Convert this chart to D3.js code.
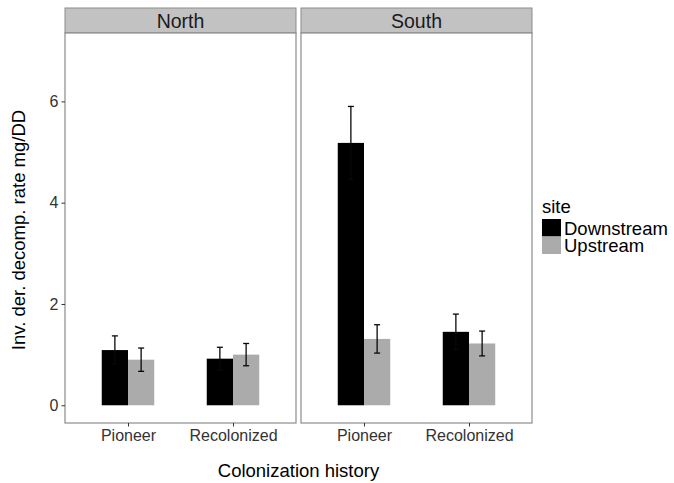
<!DOCTYPE html>
<html>
<head>
<meta charset="utf-8">
<script src="https://cdn.jsdelivr.net/npm/d3@7/dist/d3.min.js"></script>
<style>
  body { margin: 0; background: #fff; }
  svg text { font-family: "Liberation Sans", Arial, Helvetica, sans-serif; }
</style>
</head>
<body>
<svg id="chart" width="674" height="483"></svg>
<script>
// ---- data ----
const regions = ["North", "South"];
const categories = ["Pioneer", "Recolonized"];
const sites = ["Downstream", "Upstream"];
const northDownstream = [1.09, 0.92];
const northUpstream = [0.90, 1.00];
const southDownstream = [5.18, 1.45];
const southUpstream = [1.31, 1.22];
const northDownstreamErr = [0.28, 0.225];
const northUpstreamErr = [0.23, 0.22];
const southDownstreamErr = [0.72, 0.35];
const southUpstreamErr = [0.28, 0.245];
const yTicks = [0, 2, 4, 6];
const siteColors = ["#000000", "#ababab"];

const values = {
  North: { Downstream: northDownstream, Upstream: northUpstream },
  South: { Downstream: southDownstream, Upstream: southUpstream }
};
const errs = {
  North: { Downstream: northDownstreamErr, Upstream: northUpstreamErr },
  South: { Downstream: southDownstreamErr, Upstream: southUpstreamErr }
};

// ---- layout ----
const svg = d3.select("#chart");
const panelTop = 33, panelBottom = 423, stripTop = 8;
const panelX = { North: 65, South: 301 };
const panelW = 231;

const y = d3.scaleLinear().domain([-0.35, 7.35]).range([panelBottom, panelTop]);
const color = d3.scaleOrdinal().domain(sites).range(siteColors);

regions.forEach(region => {
  const x0 = panelX[region];
  const g = svg.append("g").attr("transform", `translate(${x0},0)`);
  const x = d3.scalePoint().domain(categories).range([0, panelW]).padding(0.6);
  const step = x.step();
  const xs = d3.scaleBand().domain(sites).range([-0.25 * step, 0.25 * step]);

  // strip
  g.append("rect")
    .attr("x", 0).attr("y", stripTop)
    .attr("width", panelW).attr("height", panelTop - stripTop)
    .attr("fill", "#c2c2c2").attr("stroke", "#8c8c8c").attr("stroke-width", 1);
  g.append("text")
    .attr("x", panelW / 2).attr("y", (stripTop + panelTop) / 2 + 7)
    .attr("text-anchor", "middle").attr("font-size", 19.5).attr("fill", "#1a1a1a")
    .text(region);

  // panel background
  g.append("rect")
    .attr("x", 0).attr("y", panelTop)
    .attr("width", panelW).attr("height", panelBottom - panelTop)
    .attr("fill", "#fff");

  const rows = [];
  categories.forEach((c, i) => {
    sites.forEach(s => {
      rows.push({ c, s, v: values[region][s][i], e: errs[region][s][i] });
    });
  });

  // bars
  g.selectAll("rect.bar").data(rows).enter().append("rect")
    .attr("class", "bar")
    .attr("x", d => x(d.c) + xs(d.s))
    .attr("width", xs.bandwidth())
    .attr("y", d => y(d.v))
    .attr("height", d => y(0) - y(d.v))
    .attr("fill", d => color(d.s));

  // error bars
  const capW = 3;
  const eb = g.selectAll("g.err").data(rows).enter().append("g")
    .attr("class", "err")
    .attr("stroke", "#080808").attr("stroke-width", 1.3);
  eb.append("line")
    .attr("x1", d => x(d.c) + xs(d.s) + xs.bandwidth() / 2)
    .attr("x2", d => x(d.c) + xs(d.s) + xs.bandwidth() / 2)
    .attr("y1", d => y(d.v - d.e)).attr("y2", d => y(d.v + d.e));
  eb.append("line")
    .attr("x1", d => x(d.c) + xs(d.s) + xs.bandwidth() / 2 - capW)
    .attr("x2", d => x(d.c) + xs(d.s) + xs.bandwidth() / 2 + capW)
    .attr("y1", d => y(d.v + d.e)).attr("y2", d => y(d.v + d.e));
  eb.append("line")
    .attr("x1", d => x(d.c) + xs(d.s) + xs.bandwidth() / 2 - capW)
    .attr("x2", d => x(d.c) + xs(d.s) + xs.bandwidth() / 2 + capW)
    .attr("y1", d => y(d.v - d.e)).attr("y2", d => y(d.v - d.e));

  // panel border
  g.append("rect")
    .attr("x", 0).attr("y", panelTop)
    .attr("width", panelW).attr("height", panelBottom - panelTop)
    .attr("fill", "none").attr("stroke", "#8c8c8c").attr("stroke-width", 1.2);

  // x axis
  const xAxis = d3.axisBottom(x).tickSize(3.5).tickPadding(3);
  const xg = g.append("g").attr("transform", `translate(0,${panelBottom})`).call(xAxis);
  xg.select(".domain").remove();
  xg.selectAll(".tick line").attr("stroke", "#333");
  xg.selectAll(".tick text").attr("font-size", 16).attr("fill", "#333")
    .attr("font-family", "Liberation Sans, Arial, sans-serif");
});

// y axis (left panel only)
const yAxis = d3.axisLeft(y).tickValues(yTicks).tickSize(3.5).tickPadding(3);
const yg = svg.append("g").attr("transform", `translate(${panelX.North},0)`).call(yAxis);
yg.select(".domain").remove();
yg.selectAll(".tick line").attr("stroke", "#333");
yg.selectAll(".tick text").attr("font-size", 16).attr("fill", "#333")
  .attr("font-family", "Liberation Sans, Arial, sans-serif");

// axis titles
svg.append("text")
  .attr("x", (panelX.North + panelX.South + panelW) / 2).attr("y", 477)
  .attr("text-anchor", "middle").attr("font-size", 18.5).attr("fill", "#000")
  .text("Colonization history");
svg.append("text")
  .attr("transform", `translate(25,${(panelTop + panelBottom) / 2 + 2}) rotate(-90)`)
  .attr("text-anchor", "middle").attr("font-size", 18.5).attr("fill", "#000")
  .text("Inv. der. decomp. rate mg/DD");

// legend
const lg = svg.append("g").attr("transform", "translate(542,0)");
lg.append("text").attr("x", 0).attr("y", 213).attr("font-size", 18.5).attr("fill", "#000").text("site");
sites.forEach((s, i) => {
  lg.append("rect").attr("x", 0).attr("y", 219 + i * 17.5)
    .attr("width", 19).attr("height", 17.5).attr("fill", color(s));
  lg.append("text").attr("x", 22).attr("y", 234.5 + i * 17.5)
    .attr("font-size", 18.5).attr("fill", "#000").text(s);
});
</script>
</body>
</html>
